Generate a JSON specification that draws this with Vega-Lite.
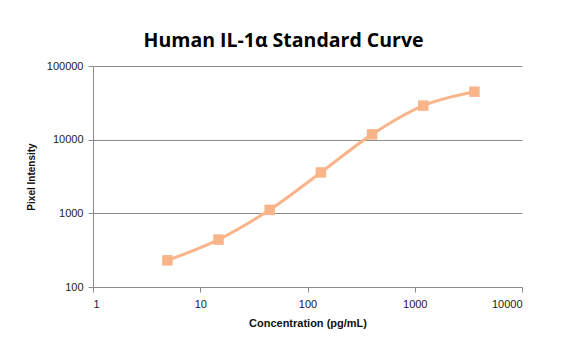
{
  "$schema": "https://vega.github.io/schema/vega-lite/v6.json",
  "autosize": "none",
  "width": 429,
  "height": 221,
  "padding": {"left": 93, "top": 66, "right": 48, "bottom": 75},
  "background": "white",
  "title": {
    "text": "Human IL-1α Standard Curve",
    "font": "Open Sans",
    "fontSize": 19.5,
    "fontWeight": "bold",
    "color": "#000000",
    "anchor": "middle",
    "dx": -24,
    "offset": 9
  },
  "data": {
    "values": [
      {"conc": 4.94, "intensity": 230},
      {"conc": 14.8, "intensity": 440},
      {"conc": 44.4, "intensity": 1115},
      {"conc": 133.3, "intensity": 3590},
      {"conc": 400, "intensity": 11800},
      {"conc": 1200, "intensity": 29000},
      {"conc": 3600, "intensity": 44800}
    ]
  },
  "encoding": {
    "x": {
      "field": "conc",
      "type": "quantitative",
      "scale": {"type": "log", "domain": [1, 10000], "nice": false},
      "axis": {
        "title": "Concentration (pg/mL)",
        "values": [1, 10, 100, 1000, 10000],
        "format": "d",
        "grid": false,
        "domainColor": "#8c8c8c",
        "tickColor": "#8c8c8c",
        "tickSize": 5,
        "labelPadding": 6,
        "labelFont": "Liberation Sans",
        "labelFontSize": 11,
        "labelColor": "#222222",
        "titleFont": "Liberation Sans",
        "titleFontSize": 11,
        "titleFontWeight": "bold",
        "titleColor": "#111111",
        "titlePadding": 8
      }
    },
    "y": {
      "field": "intensity",
      "type": "quantitative",
      "scale": {"type": "log", "domain": [100, 100000], "nice": false},
      "axis": {
        "title": "Pixel Intensity",
        "values": [100, 1000, 10000, 100000],
        "format": "d",
        "grid": true,
        "gridColor": "#8c8c8c",
        "gridWidth": 1,
        "domainColor": "#8c8c8c",
        "tickColor": "#8c8c8c",
        "tickSize": 5,
        "labelPadding": 5,
        "labelFont": "Liberation Sans",
        "labelFontSize": 11,
        "labelColor": "#222222",
        "titleFont": "Liberation Sans",
        "titleFontSize": 10,
        "titleFontWeight": "bold",
        "titleColor": "#111111",
        "titlePadding": 10
      }
    }
  },
  "layer": [
    {
      "mark": {"type": "line", "interpolate": "monotone", "color": "#F9B48A", "strokeWidth": 3}
    },
    {
      "mark": {"type": "square", "size": 110, "color": "#F9B48A", "opacity": 1, "filled": true}
    }
  ],
  "config": {"view": {"stroke": null}}
}
